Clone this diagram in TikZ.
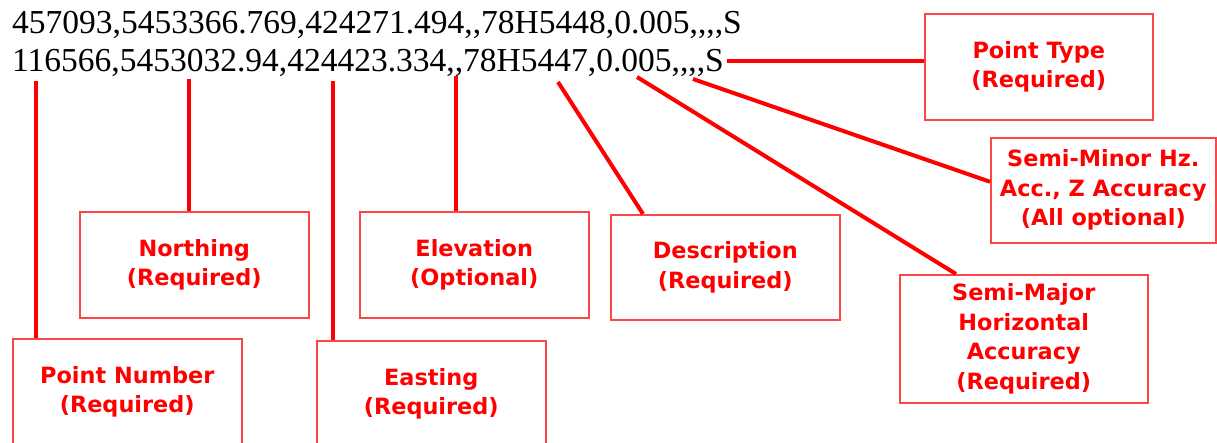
\documentclass[tikz,border=0pt]{standalone}
\usepackage{fontspec}
% record text: Times-metric serif, no TeX ligatures so ",," stays two commas
\newfontfamily\recfont{Liberation Serif}
\newfontfamily\labelfont{DejaVu Sans}
\definecolor{boxred}{RGB}{255,70,70}
\tikzset{
  conn/.style={draw=red, line width=4pt},
  field/.style={draw=boxred, line width=1.5pt, text=red,
    font=\labelfont\bfseries\fontsize{22.4}{29.5}\selectfont,
    align=center, inner sep=0pt, anchor=north west},
  record/.style={font=\recfont\fontsize{33.5}{38}\selectfont,
    inner sep=0pt, anchor=base west}
}
\begin{document}
\begin{tikzpicture}[x=1pt,y=-1pt]
\clip (0,0) rectangle (1217,442);
\fill[white] (0,0) rectangle (1217,442);

% the two coordinate records
\node[record] (row1) at (12,33.5) {457093,5453366.769,424271.494,,78H5448,0.005,,,,S};
\node[record] (row2) at (12,71.5) {116566,5453032.94,424423.334,,78H5447,0.005,,,,S};

% field boxes
\node[field, minimum width=229, minimum height=106] (pnbox) at (12,338) {Point Number\\(Required)};
\node[field, minimum width=229, minimum height=106] (nbox) at (79,211) {Northing\\(Required)};
\node[field, minimum width=229, minimum height=106] (ebox) at (316,340) {Easting\\(Required)};
\node[field, minimum width=229, minimum height=106] (elbox) at (359,211) {Elevation\\(Optional)};
\node[field, minimum width=229, minimum height=105] (dbox) at (610,214) {Description\\(Required)};
\node[field, minimum width=248, minimum height=128] (smajbox) at (899,274) {Semi-Major\\Horizontal\\Accuracy\\(Required)};
\node[field, minimum width=228, minimum height=106] (ptbox) at (924,13) {Point Type\\(Required)};
\node[field, minimum width=225, minimum height=105] (sminbox) at (990,137) {Semi-Minor Hz.\\Acc., Z Accuracy\\(All optional)};

% connector ends under the record
\coordinate (tipPN) at (36,81);
\coordinate (tipN) at (189,79);
\coordinate (tipE) at (333,81);
\coordinate (tipEl) at (455.5,76);
\coordinate (tipD) at (558,82);
\coordinate (tipSmaj) at (637,77);
\coordinate (tipSmin) at (693,79);
\coordinate (tipPT) at (727,61);

% connectors
\draw[conn] (tipPN) -- (tipPN |- pnbox.north);
\draw[conn] (tipN) -- (tipN |- nbox.north);
\draw[conn] (tipE) -- (tipE |- ebox.north);
\draw[conn] (tipEl) -- (tipEl |- elbox.north);
\draw[conn] (tipD) -- ([xshift=33pt]dbox.north west);
\draw[conn] (tipSmaj) -- ([xshift=57pt]smajbox.north west);
\draw[conn] (tipSmin) -- ([yshift=8.5pt]sminbox.west);
\draw[conn] (tipPT) -- (tipPT -| ptbox.west);
\end{tikzpicture}
\end{document}
